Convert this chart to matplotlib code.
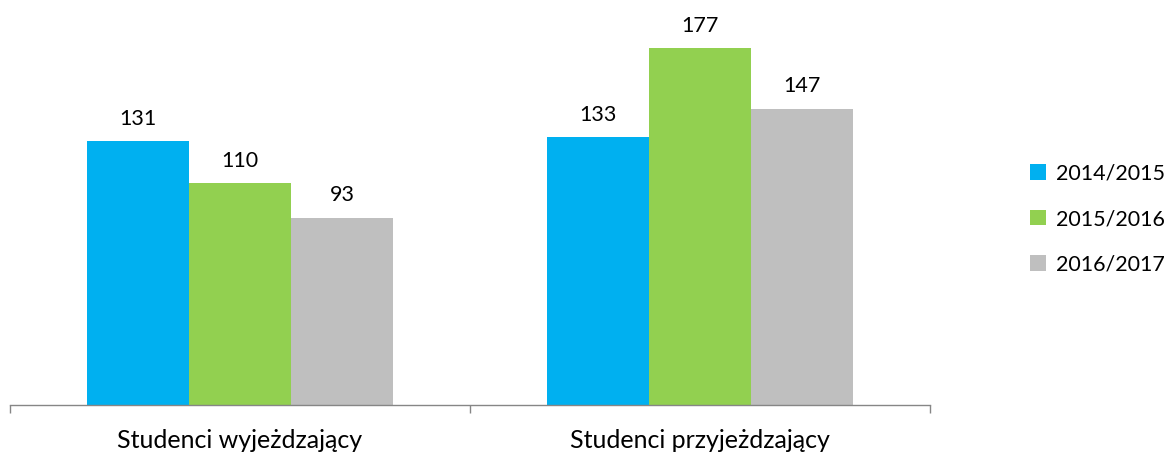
import matplotlib.pyplot as plt
import numpy as np

categories = ["Studenci wyjeżdzający", "Studenci przyjeżdzający"]
years = ["2014/2015", "2015/2016", "2016/2017"]
values_2014 = [131, 133]
values_2015 = [110, 177]
values_2016 = [93, 147]
colors = ["#00B0F0", "#92D050", "#BFBFBF"]

plt.rcParams["font.family"] = ["Lato", "DejaVu Sans"]

fig = plt.figure(figsize=(11.69, 4.53), dpi=100)
ax = fig.add_axes([10 / 1169, 48 / 453, 920 / 1169, 405 / 453])

x = np.arange(len(categories))
width = 0.2217
series = [values_2014, values_2015, values_2016]
for i, (vals, label, color) in enumerate(zip(series, years, colors)):
    bars = ax.bar(x + (i - 1) * width, vals, width, color=color, label=label)
    ax.bar_label(bars, padding=9, fontsize=15.5, color="#000000")

ax.set_xlim(-0.5, 1.5)
ax.set_ylim(0, 201)
ax.set_yticks([])
for side in ["top", "right", "left"]:
    ax.spines[side].set_visible(False)
ax.spines["bottom"].set_color("#868686")
ax.spines["bottom"].set_linewidth(1.0)

ax.set_xticks(x)
ax.set_xticklabels(categories, fontsize=18)
ax.tick_params(axis="x", which="major", length=0, pad=17)
ax.set_xticks([-0.5, 0.5, 1.5], minor=True)
ax.tick_params(axis="x", which="minor", length=6, color="#868686", width=1.0)

fig.legend(
    loc="center left",
    bbox_to_anchor=(1030 / 1169, 1 - 219 / 453),
    frameon=False,
    fontsize=15.5,
    borderpad=0,
    borderaxespad=0,
    handlelength=0.75,
    handleheight=0.75,
    handletextpad=0.45,
    labelspacing=1.2,
)

fig.savefig("out.png", dpi=100)
